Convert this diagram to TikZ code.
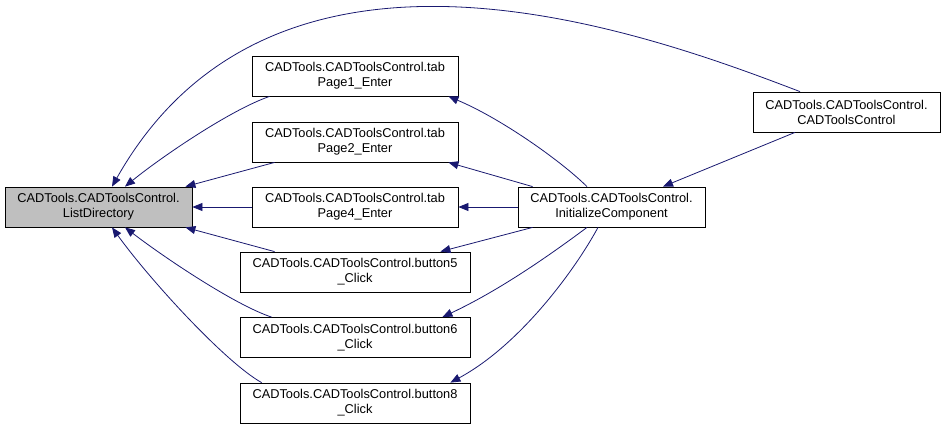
\documentclass[tikz,border=0pt]{standalone}
\usepackage{fontspec}
\setmainfont{Liberation Sans}
\definecolor{edgeblue}{RGB}{25, 25, 112}
\definecolor{hilitegray}{RGB}{191, 191, 191}
\usepackage{tikz}
\usetikzlibrary{positioning, arrows.meta, calc}

\begin{document}
\begin{tikzpicture}[x=1pt, y=-1pt,
  fnbox/.style={draw=black, line width=0.8pt, fill=white, minimum height=40pt, inner sep=0pt, align=center, font=\fontsize{12.8}{15}\selectfont},
  callarrow/.style={draw=edgeblue, line width=0.8pt, -{Triangle[length=10pt, width=8pt]}}]
\useasboundingbox (0,0) rectangle (945,429);

% nodes
\node[fnbox, fill=hilitegray, minimum width=187pt] (list) at (98.5,207) {CADTools.CADToolsControl.\\ListDirectory};
\node[fnbox, minimum width=206pt] (tab1) at (355,76) {CADTools.CADToolsControl.tab\\Page1\_Enter};
\node[fnbox, minimum width=206pt] (tab2) at (355,142) {CADTools.CADToolsControl.tab\\Page2\_Enter};
\node[fnbox, minimum width=206pt] (tab4) at (355,207) {CADTools.CADToolsControl.tab\\Page4\_Enter};
\node[fnbox, minimum width=230pt] (btn5) at (355,272) {CADTools.CADToolsControl.button5\\\_Click};
\node[fnbox, minimum width=230pt] (btn6) at (355,337.5) {CADTools.CADToolsControl.button6\\\_Click};
\node[fnbox, minimum width=230pt] (btn8) at (355,403) {CADTools.CADToolsControl.button8\\\_Click};
\node[fnbox, minimum width=187pt] (init) at (611.5,207) {CADTools.CADToolsControl.\\InitializeComponent};
\node[fnbox, minimum width=187pt] (ctor) at (846.5,112) {CADTools.CADToolsControl.\\CADToolsControl};

% calls into ListDirectory
\draw[callarrow] ($(ctor.north)+(-46.5,0)$) .. controls (647,33) and (276,-104) .. ($(list.north)+(13.5,0)$);
\draw[callarrow] ($(tab1.south west)+(18,0)$) .. controls (230,110) and (160,158) .. ($(list.north)+(26.5,0)$);
\draw[callarrow] ($(tab2.south west)+(23,0)$) -- ($(list.north east)+(-7,0)$);
\draw[callarrow] (tab4.west) -- (list.east);
\draw[callarrow] ($(btn5.north west)+(35,0)$) -- ($(list.south east)+(-7,0)$);
\draw[callarrow] ($(btn6.north west)+(32,0)$) .. controls (235,305) and (165,258) .. ($(list.south)+(26.5,0)$);
\draw[callarrow] ($(btn8.north west)+(22,0)$) .. controls (225,362) and (150,280) .. ($(list.south)+(13.5,0)$);

% calls from InitializeComponent
\draw[callarrow] ($(init.north)+(-24.5,0)$) .. controls (560,160) and (500,118) .. ($(tab1.south east)+(-10,0)$);
\draw[callarrow] ($(init.north west)+(15,0)$) -- ($(tab2.south east)+(-10,0)$);
\draw[callarrow] (init.west) -- (tab4.east);
\draw[callarrow] ($(init.south west)+(15,0)$) -- ($(btn5.north east)+(-30,0)$);
\draw[callarrow] ($(init.south)+(-24.5,0)$) .. controls (550,255) and (500,290) .. ($(btn6.north east)+(-28,0)$);
\draw[callarrow] ($(init.south)+(-13.5,0)$) .. controls (575,270) and (520,345) .. ($(btn8.north east)+(-20,0)$);
\draw[callarrow] ($(ctor.south)+(-51.5,0)$) -- ($(init.north)+(51.5,0)$);
\end{tikzpicture}
\end{document}
